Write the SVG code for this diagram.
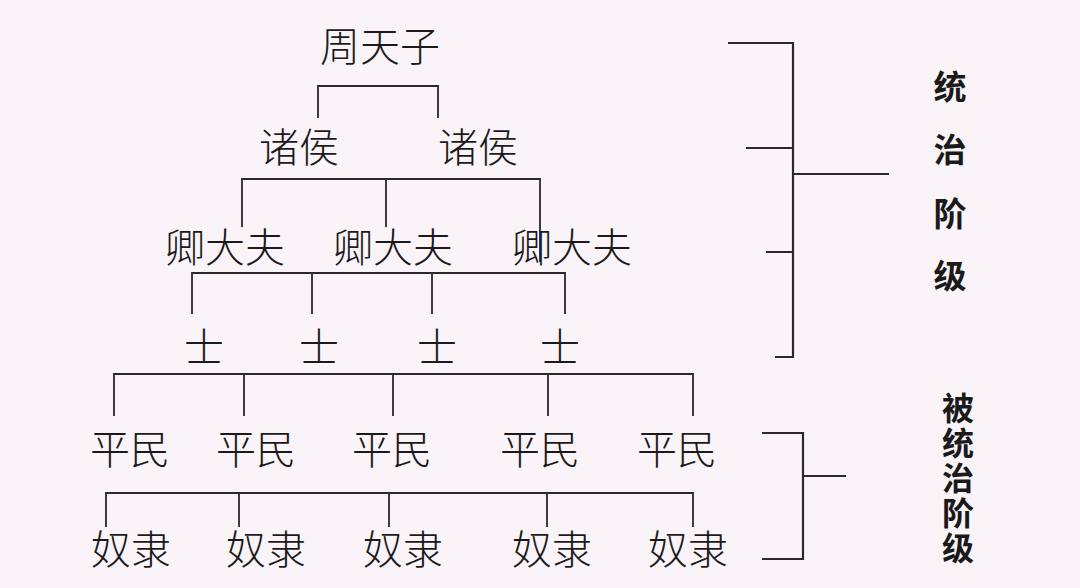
<svg xmlns="http://www.w3.org/2000/svg" width="1080" height="588" viewBox="0 0 1080 588">
<style>
.n{font-family:"Noto Sans CJK SC","Noto Sans CJK JP",sans-serif;font-size:40px;font-weight:300;fill:#1a1a1a;text-anchor:middle;dominant-baseline:central}
.s{font-family:"Noto Sans CJK SC","Noto Sans CJK JP",sans-serif;font-size:33px;font-weight:700;fill:#1a1a1a;text-anchor:middle;dominant-baseline:central}
.v{font-family:"Noto Sans CJK SC","Noto Sans CJK JP",sans-serif;font-size:32px;font-weight:700;fill:#1a1a1a;writing-mode:vertical-rl;letter-spacing:3px}
.c path{fill:none;stroke:#2a2a2a;stroke-width:1.8}
.b path{fill:none;stroke:#2a2a2a;stroke-width:2.2}
</style>
<rect width="1080" height="588" fill="#faf4f8"/>
<g id="connectors" class="c">
<path d="M318 118V86H438V118"/>
<path d="M242 227V179H540V262M386 179V227"/>
<path d="M192 314V273H565V314M312 273V314M432 273V314"/>
<path d="M114 416V374H693V416M244 374V416M393 374V416M548 374V416"/>
<path d="M106 527V493H693V527M239 493V527M389 493V527M547 493V527"/>
</g>
<g id="brackets" class="b">
<path d="M728 43H793V357H775M746 148H793M766 252H793M793 174H889"/>
<path d="M762 433H803V559H762M803 476H846"/>
</g>
<g id="tianzi"><text class="n" x="380" y="44">周天子</text></g>
<g id="zhuhou1"><text class="n" x="299" y="145">诸侯</text></g>
<g id="zhuhou2"><text class="n" x="478" y="145">诸侯</text></g>
<g id="qing1"><text class="n" x="225" y="245">卿大夫</text></g>
<g id="qing2"><text class="n" x="393" y="245">卿大夫</text></g>
<g id="qing3"><text class="n" x="572" y="245">卿大夫</text></g>
<g id="shi1"><text class="n" x="204" y="345">士</text></g>
<g id="shi2"><text class="n" x="319" y="345">士</text></g>
<g id="shi3"><text class="n" x="437" y="345">士</text></g>
<g id="shi4"><text class="n" x="560" y="345">士</text></g>
<g id="pm1"><text class="n" x="130" y="447">平民</text></g>
<g id="pm2"><text class="n" x="256" y="447">平民</text></g>
<g id="pm3"><text class="n" x="392" y="447">平民</text></g>
<g id="pm4"><text class="n" x="540" y="447">平民</text></g>
<g id="pm5"><text class="n" x="677" y="447">平民</text></g>
<g id="nl1"><text class="n" x="131" y="547">奴隶</text></g>
<g id="nl2"><text class="n" x="266" y="547">奴隶</text></g>
<g id="nl3"><text class="n" x="403" y="547">奴隶</text></g>
<g id="nl4"><text class="n" x="552" y="547">奴隶</text></g>
<g id="nl5"><text class="n" x="688" y="547">奴隶</text></g>
<g id="ruling">
<text class="s" x="950" y="85">统</text>
<text class="s" x="950" y="148">治</text>
<text class="s" x="950" y="212">阶</text>
<text class="s" x="950" y="274">级</text>
</g>
<g id="ruled">
<text class="v" x="958" y="392">被统治阶级</text>
</g>
</svg>
